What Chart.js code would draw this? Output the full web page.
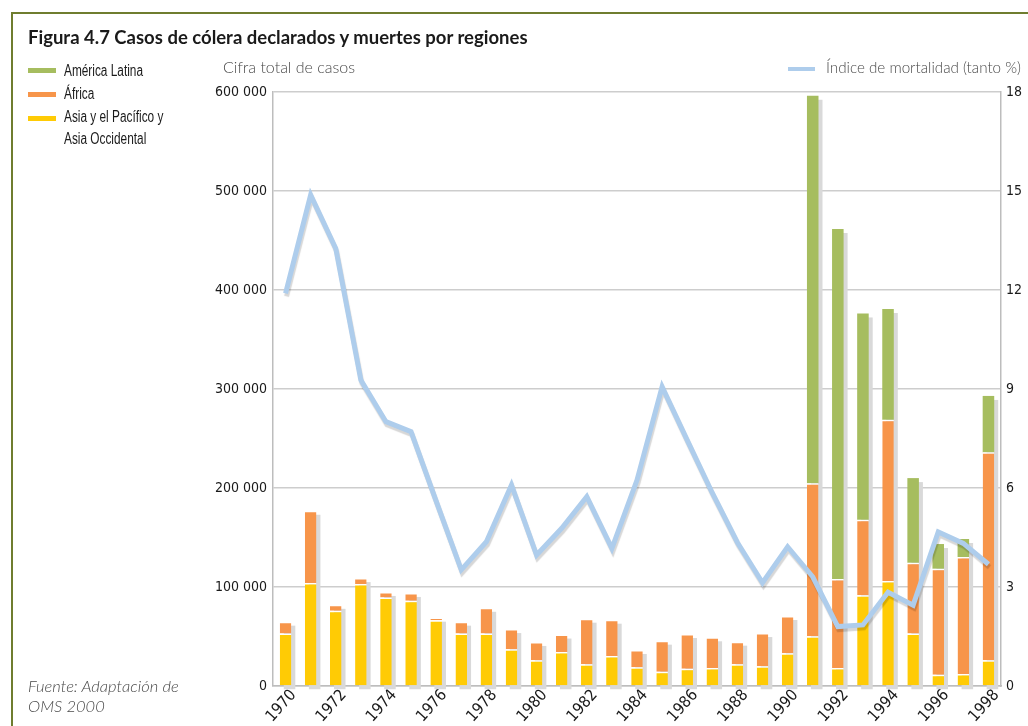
<!DOCTYPE html>
<html>
<head>
<meta charset="utf-8">
<script src="https://cdn.jsdelivr.net/npm/chart.js@4.4.1/dist/chart.umd.min.js"></script>
<style>
  body { margin: 0; background: #fff; width: 1028px; height: 726px; overflow: hidden; position: relative; font-family: Lato, 'Open Sans', sans-serif; }
  #frame { position: absolute; left: 11px; top: 12px; width: 1100px; height: 800px; border-left: 2px solid #6f7d2f; border-top: 2px solid #6f7d2f; }
  #chart { position: absolute; left: 0; top: 0; }
  .txt { position: absolute; white-space: nowrap; }
  .title { left: 28px; top: 26px; font-size: 18.5px; font-weight: 700; color: #1a1a1a; }
  .sw { position: absolute; left: 28px; width: 28px; height: 5px; }
  .leg { left: 64px; font-size: 16px; color: #1a1a1a; font-family: 'Liberation Sans', Arial, sans-serif; transform: scaleX(0.74); transform-origin: left top; line-height: 22px; }
  .light { font-size: 16px; font-weight: 300; color: #4a4a4a; }
  .src { left: 28px; top: 676px; font-size: 16.5px; font-weight: 300; font-style: italic; color: #4a4a4a; line-height: 20px; }
</style>
</head>
<body>
<div id="frame"></div>
<canvas id="chart" width="1028" height="726"></canvas>

<div class="txt title">Figura 4.7 Casos de cólera declarados y muertes por regiones</div>

<div class="sw" style="top:68px;background:#a6bd5f"></div>
<div class="txt leg" style="top:60px">América Latina</div>
<div class="sw" style="top:92px;background:#f7954a"></div>
<div class="txt leg" style="top:83px">África</div>
<div class="sw" style="top:116px;background:#ffcb05"></div>
<div class="txt leg" style="top:106px">Asia y el Pacífico y<br>Asia Occidental</div>

<div class="txt light" style="left:223px;top:57px">Cifra total de casos</div>
<div class="sw" style="left:788px;top:67px;width:27px;height:4px;background:#aecdec"></div>
<div class="txt light" style="left:826px;top:58px;font-size:15.2px">Índice de mortalidad (tanto %)</div>

<div class="txt src">Fuente: Adaptación de<br>OMS 2000</div>

<script>
// años
const years = [1970, 1971, 1972, 1973, 1974, 1975, 1976, 1977, 1978, 1979,
               1980, 1981, 1982, 1983, 1984, 1985, 1986, 1987, 1988, 1989,
               1990, 1991, 1992, 1993, 1994, 1995, 1996, 1997, 1998];

// casos declarados por región
const asia = [53000, 104000, 76000, 103000, 89500, 86000, 66500, 53000, 53000, 37000,
              26000, 34300, 22000, 30300, 19000, 14400, 17500, 18200, 21900, 19900,
              33000, 50200, 18200, 91600, 106000, 53000, 11400, 12100, 26000];
const africa = [12000, 73000, 6000, 6000, 5500, 8000, 2500, 12000, 26000, 20500,
                18500, 17700, 46000, 36700, 17400, 31400, 35000, 31000, 22900, 33600,
                37700, 154500, 89800, 76400, 163000, 71500, 107100, 118200, 210000];
const latina = [0, 0, 0, 0, 0, 0, 0, 0, 0, 0,
                0, 0, 0, 0, 0, 0, 0, 0, 0, 0,
                0, 391500, 353600, 208300, 111800, 85500, 24900, 18200, 57000];

// índice de mortalidad (%)
const mortalidad = [11.9, 14.88, 13.26, 9.27, 8.01, 7.71, 5.6, 3.52, 4.37, 6.09,
                    3.97, 4.78, 5.74, 4.17, 6.24, 9.07, 7.45, 5.85, 4.35, 3.13,
                    4.22, 3.31, 1.8, 1.85, 2.84, 2.45, 4.67, 4.32, 3.69];

const tickFont = { family: "'Liberation Sans Narrow', 'DejaVu Sans Condensed', Lato, sans-serif", size: 14 };

function fmt(v) {
    return String(v).replace(/\B(?=(\d{3})+(?!\d))/g, ' ');
}

// sombra gris detrás de cada columna y de la línea
const shadowPlugin = {
    id: 'shadows',
    beforeDatasetsDraw(chart) {
        const ctx = chart.ctx;
        const tops = chart.getDatasetMeta(3).data;
        const bottoms = chart.getDatasetMeta(1).data;
        ctx.save();
        ctx.fillStyle = '#d9d9d9';
        tops.forEach((bar, i) => {
            const base = bottoms[i].base;
            ctx.fillRect(bar.x - bar.width / 2 + 4, bar.y + 4, bar.width, base - bar.y);
        });
        ctx.restore();
    },
    beforeDatasetDraw(chart, args) {
        if (args.meta.type !== 'line') return;
        const ctx = chart.ctx;
        ctx.save();
        ctx.shadowColor = 'rgba(0,0,0,0.16)';
        ctx.shadowOffsetX = 1;
        ctx.shadowOffsetY = 3;
        ctx.shadowBlur = 1;
    },
    afterDatasetDraw(chart, args) {
        if (args.meta.type !== 'line') return;
        chart.ctx.restore();
    }
};

new Chart(document.getElementById('chart'), {
    type: 'bar',
    data: {
        labels: years,
        datasets: [
            {
                type: 'line',
                label: 'Índice de mortalidad (tanto %)',
                data: mortalidad,
                yAxisID: 'y1',
                borderColor: '#aecdec',
                borderWidth: 5,
                borderJoinStyle: 'miter',
                pointRadius: 0,
                tension: 0,
                order: 0
            },
            {
                label: 'Asia y el Pacífico y Asia Occidental',
                data: asia,
                backgroundColor: '#ffcb05',
                borderColor: '#ffffff',
                borderWidth: { top: 1.5 },
                borderSkipped: false,
                order: 1
            },
            {
                label: 'África',
                data: africa,
                backgroundColor: '#f7954a',
                borderColor: '#ffffff',
                borderWidth: { top: 1.5 },
                order: 1
            },
            {
                label: 'América Latina',
                data: latina,
                backgroundColor: '#a6bd5f',
                order: 1
            }
        ]
    },
    options: {
        responsive: false,
        animation: false,
        devicePixelRatio: 1,
        barPercentage: 0.46,
        categoryPercentage: 1,
        layout: { padding: { top: 92, left: 0, right: 0, bottom: 0 } },
        plugins: {
            legend: { display: false },
            tooltip: { enabled: false }
        },
        scales: {
            x: {
                stacked: true,
                grid: { display: false },
                border: { color: '#bdbdbd', width: 1.5 },
                ticks: {
                    autoSkip: false,
                    minRotation: 48,
                    maxRotation: 48,
                    labelOffset: 8,
                    padding: -8,
                    color: '#1a1a1a',
                    font: { family: tickFont.family, size: 16 },
                    callback: (v, i) => (i % 2 === 0 ? years[i] : '')
                },
                afterFit: s => { s.height = 40; }
            },
            y: {
                stacked: true,
                min: 0,
                max: 600000,
                grid: { color: '#cdcdcd', lineWidth: 1.5, drawTicks: false },
                border: { color: '#bdbdbd', width: 1.5 },
                ticks: { stepSize: 100000, padding: 6, color: '#1a1a1a', font: tickFont, callback: v => fmt(v) },
                afterFit: s => { s.width = 273; }
            },
            y1: {
                position: 'right',
                min: 0,
                max: 18,
                grid: { drawOnChartArea: false, drawTicks: false },
                border: { color: '#bdbdbd', width: 1.5 },
                ticks: { stepSize: 3, padding: 5, color: '#1a1a1a', font: tickFont },
                afterFit: s => { s.width = 27; }
            }
        }
    },
    plugins: [shadowPlugin]
});
</script>
</body>
</html>
